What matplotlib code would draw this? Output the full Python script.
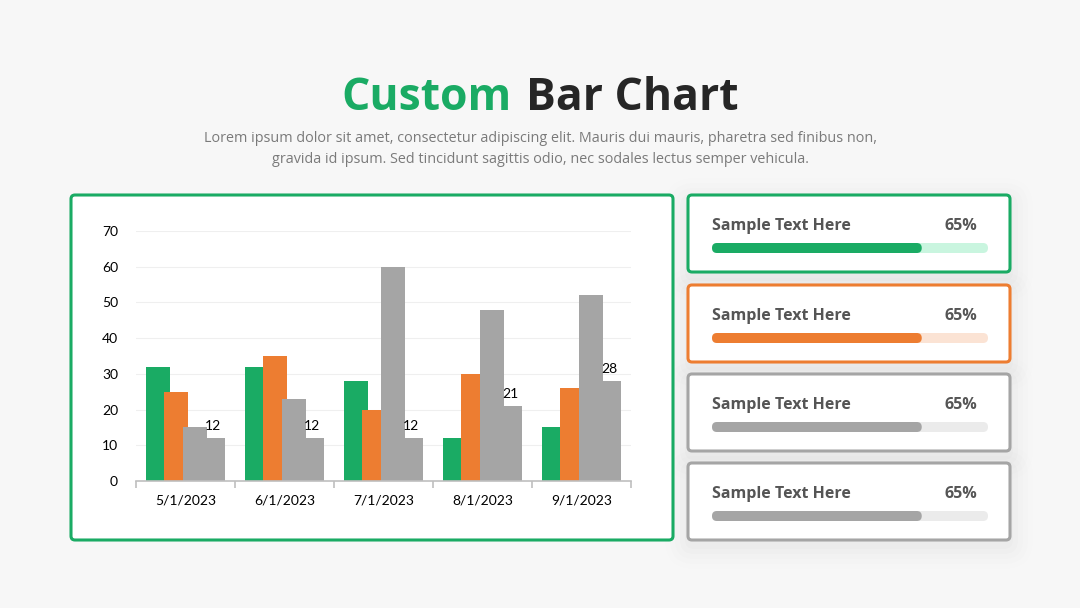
import numpy as np
import matplotlib.pyplot as plt
from matplotlib.patches import FancyBboxPatch

# data
dates = ["5/1/2023", "6/1/2023", "7/1/2023", "8/1/2023", "9/1/2023"]
series_green = [32, 32, 28, 12, 15]
series_orange = [25, 35, 20, 30, 26]
series_gray = [15, 23, 60, 48, 52]
series_gray2 = [12, 12, 12, 21, 28]

panel_labels = ["Sample Text Here"] * 4
panel_values = ["65%"] * 4
panel_fill = [0.76, 0.76, 0.76, 0.76]

GREEN = "#1aab64"
ORANGE = "#ed7d31"
GRAY = "#a5a5a5"
DARK = "#262626"

fig = plt.figure(figsize=(10.8, 6.08), dpi=100)
fig.patch.set_facecolor("#f7f7f7")

# pixel-space overlay for boxes and text
bg = fig.add_axes([0, 0, 1, 1], zorder=0)
bg.set_xlim(0, 1080)
bg.set_ylim(608, 0)
bg.axis("off")


def box(x0, y0, x1, y1, edge, shadow=True):
    if shadow:
        for i, a in enumerate([0.012, 0.01, 0.008, 0.006, 0.004]):
            pad = 3 + i * 5
            bg.add_patch(FancyBboxPatch((x0 - pad, y0 - pad + 6), x1 - x0 + 2 * pad,
                                        y1 - y0 + 2 * pad,
                                        boxstyle="round,pad=0,rounding_size=%d" % (6 + pad),
                                        fc="black", ec="none", alpha=a, zorder=1))
    bg.add_patch(FancyBboxPatch((x0, y0), x1 - x0, y1 - y0,
                                boxstyle="round,pad=0,rounding_size=4",
                                fc="white", ec=edge, lw=2.2, zorder=2))


# title
bg.text(512, 98, "Custom", color=GREEN, fontsize=32, fontweight="bold",
        family="Open Sans", ha="right", va="center")
bg.text(526, 98, "Bar Chart", color=DARK, fontsize=32, fontweight="bold",
        family="Open Sans", ha="left", va="center")
bg.text(540, 149, "Lorem ipsum dolor sit amet, consectetur adipiscing elit. Mauris dui mauris, pharetra sed finibus non,\n"
        "gravida id ipsum. Sed tincidunt sagittis odio, nec sodales lectus semper vehicula.",
        color="#7a7a7a", fontsize=10.4, family="Open Sans", ha="center", va="center",
        linespacing=1.5)

# main chart box
box(71, 195, 673, 540, GREEN, shadow=False)

# right panels
panel_edges = [GREEN, ORANGE, GRAY, GRAY]
panel_fills = [GREEN, ORANGE, GRAY, GRAY]
panel_tracks = ["#c9f5df", "#fbe3d4", "#ebebeb", "#ebebeb"]
tops = [195, 285, 374, 463]
for i, top in enumerate(tops):
    box(688, top, 1010, top + 77, panel_edges[i])
    bg.text(712, top + 31, panel_labels[i], color="#555555", fontsize=11.5,
            fontweight="bold", family="Open Sans", ha="left", va="center", zorder=3)
    bg.text(977, top + 31, panel_values[i], color="#555555", fontsize=11.5,
            fontweight="bold", family="Open Sans", ha="right", va="center", zorder=3)
    x0, x1, h = 712, 988, 10
    yb = top + 53 - h / 2
    bg.add_patch(FancyBboxPatch((x0, yb), x1 - x0, h,
                                boxstyle="round,pad=0,rounding_size=5",
                                fc=panel_tracks[i], ec="none", zorder=3))
    bg.add_patch(FancyBboxPatch((x0, yb), (x1 - x0) * panel_fill[i], h,
                                boxstyle="round,pad=0,rounding_size=5",
                                fc=panel_fills[i], ec="none", zorder=4))

# bar chart
ax = fig.add_axes([136 / 1080, (608 - 481) / 608, 495 / 1080, 250 / 608], zorder=2)
ax.patch.set_alpha(0)
x = np.arange(len(dates))
w = 0.2424
step = 0.185
start = -(3 * step + w) / 2 + w / 2
series = [series_green, series_orange, series_gray, series_gray2]
colors = [GREEN, ORANGE, GRAY, GRAY]
for k, (vals, c) in enumerate(zip(series, colors)):
    ax.bar(x + start + k * step, vals, width=w, color=c, zorder=2 + k)

for xi, v in zip(x + start + 3 * step, series_gray2):
    ax.text(xi, v + 1.6, str(v), ha="center", va="bottom", fontsize=10,
            family="Lato", color="black", zorder=10)

ax.set_xlim(-0.5, len(dates) - 0.5)
ax.set_ylim(0, 70)
ax.set_yticks(range(0, 71, 10))
ax.set_xticks(x)
ax.set_xticklabels(dates)
ax.set_xticks(np.arange(-0.5, len(dates)), minor=True)
ax.tick_params(axis="x", which="major", length=0, pad=10)
ax.tick_params(axis="x", which="minor", length=5, color="#bfbfbf", width=1.2)
ax.tick_params(axis="y", length=0, pad=13)
for lab in ax.get_xticklabels() + ax.get_yticklabels():
    lab.set_family("Lato")
    lab.set_fontsize(10)
    lab.set_color("black")
ax.grid(axis="y", color="#efefef", lw=0.8, zorder=0)
ax.set_axisbelow(True)
for s in ["top", "right", "left"]:
    ax.spines[s].set_visible(False)
ax.spines["bottom"].set_color("#bfbfbf")
ax.spines["bottom"].set_linewidth(1.2)
ax.spines["bottom"].set_zorder(8)

fig.savefig("out.png", dpi=100, facecolor=fig.get_facecolor())
